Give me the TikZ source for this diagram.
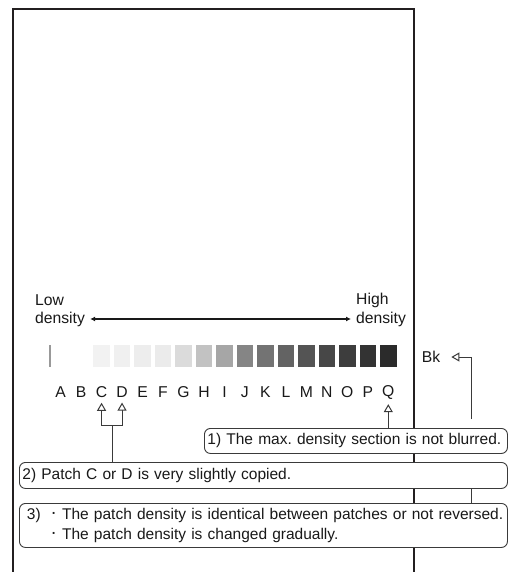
\documentclass[tikz,border=0pt]{standalone}
\usepackage{fontspec}
\setmainfont{Liberation Sans}
\usetikzlibrary{arrows.meta, backgrounds}

\definecolor{pageedge}{HTML}{231F20}
\definecolor{connedge}{HTML}{3A3A3A}

\tikzset{
  txtlbl/.style={font=\fontsize{15.7}{18}\selectfont, inner sep=2pt, text=black!90},
  notebox/.style={draw=connedge, line width=0.9pt, rounded corners=6pt, fill=white,
    anchor=north west, inner xsep=3pt, inner ysep=2pt, align=left,
    font=\fontsize{15.5}{20}\selectfont, text=black!90},
  connline/.style={draw=connedge, line width=1pt},
  openarrow/.style={connline, -{Triangle[open, length=8pt, width=9pt, fill=white, line width=1pt]}},
  densarrow/.style={line width=1.3pt, black!90, {Latex[length=5pt, width=5pt]}-{Latex[length=5pt, width=5pt]}}
}
\newcommand{\middot}{\raisebox{0.1ex}{\scalebox{1.2}{·}}}

\begin{document}
\frenchspacing
\begin{tikzpicture}[x=1pt, y=-1pt]

\useasboundingbox (0,0) rectangle (508,572);
\fill [white] (0,0) rectangle (508,572);

%%%%%%%%%%%%%%% Sheet
\draw [line width=2.2pt, pageedge] (13,572) -- (13,9) -- (414,9) -- (414,572);

%%%%%%%%%%%%%%% Density direction
\node [txtlbl, anchor=west] (lowtop) at (33,300) {Low};
\node [txtlbl, anchor=west] (lowden) at (33,319) {density};
\node [txtlbl, anchor=west] (hightop) at (354,300) {High};
\node [txtlbl, anchor=west] (highden) at (354,319) {density};

\draw [densarrow, shorten <=3pt, shorten >=3pt] (lowden.east) -- (highden.west);

%%%%%%%%%%%%%%% Patches
\draw [line width=1.2pt, black!40] (50,345) -- (50,367);

\foreach \ltr/\shade [count=\i from 2] in {C/5, D/6, E/7, F/8, G/14, H/24, I/35, J/48, K/55, L/61, M/67, N/72, O/76, P/80, Q/83}
  \fill [black!\shade] ({52.3+20.48*\i},345) rectangle ++(16.7,22);

\foreach \ltr [count=\i from 0] in {A,B,C,D,E,F,G,H,I,J,K,L,M,N,O,P,Q}
  \node [txtlbl] (lbl-\ltr) at ({60.6+20.48*\i},392) {\ltr};

\node [txtlbl] (bk) at (431,357) {Bk};

%%%%%%%%%%%%%%% Notes
\node [notebox, text width=297pt, minimum height=25pt] (notemax) at (204,428)
  {1) The max. density section is not blurred.};
\node [notebox, text width=482pt, minimum height=26pt] (notecd) at (19,462)
  {2) Patch C or D is very slightly copied.};
\node [notebox, text width=482pt, minimum height=44pt] (notegrad) at (19,503)
  {\hspace*{4.5pt}3)\hspace{10pt}\middot\ The patch density is identical between patches or not reversed.\\
   \hspace*{4.5pt}\phantom{3)}\hspace{10pt}\middot\ The patch density is changed gradually.};

%%%%%%%%%%%%%%% Connectors
\coordinate (cdjoin) at (112,425);
\coordinate (bkfoot) at (471,419);

\draw [connline] (notecd.north -| cdjoin) -- (cdjoin);
\draw [openarrow, shorten >=3pt] (cdjoin) -| (lbl-C.south);
\draw [openarrow, shorten >=3pt] (cdjoin) -| (lbl-D.south);

\draw [openarrow, shorten >=3pt] (notemax.north -| lbl-Q) -- (lbl-Q.south);

\draw [openarrow, shorten >=9pt] (bkfoot) |- (bk.east);
\draw [connline] (notecd.south -| bkfoot) -- (notegrad.north -| bkfoot);

\end{tikzpicture}
\end{document}
